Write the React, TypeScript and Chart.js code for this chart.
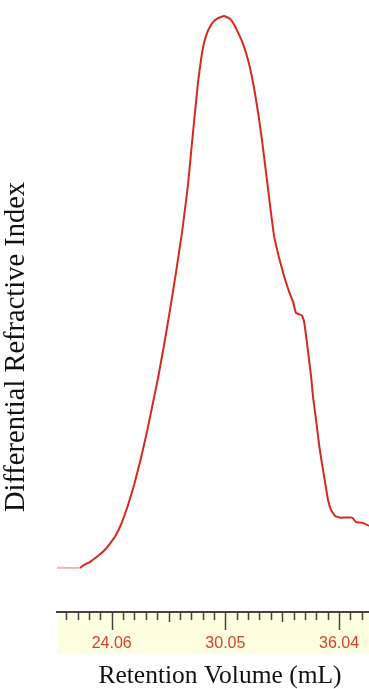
import { useEffect, useRef } from "react";
import { Chart, registerables } from "chart.js";

Chart.register(...registerables);

// Retention volume (mL) and differential RI signal (relative units, peak ≈ 100)
const RETENTION_VOLUME = [
  21.18, 22.39, 22.55, 22.92, 23.28, 23.65, 23.97, 24.29, 24.6, 24.92, 25.24,
  25.55, 25.87, 26.18, 26.5, 26.82, 27.13, 27.45, 27.77, 28.08, 28.29, 28.45,
  28.61, 28.77, 28.93, 29.14, 29.4, 29.66, 29.98, 30.29, 30.5, 30.72, 30.93,
  31.14, 31.35, 31.56, 31.77, 31.98, 32.19, 32.4, 32.61, 32.88, 33.14, 33.41,
  33.62, 33.77, 34.09, 34.2, 34.35, 34.46, 34.57, 34.67, 34.83, 34.99, 35.15,
  35.3, 35.46, 35.62, 35.83, 36.1, 36.73, 36.94, 37.26, 37.62,
];
const RI_SIGNAL = [
  0, 0, 0.4, 1.1, 2.0, 3.1, 4.4, 6.0, 8.3, 11.4, 15.0, 19.2, 23.9, 29.0, 34.4,
  40.4, 46.7, 53.6, 60.9, 69.4, 77.0, 82.6, 88.0, 92.2, 95.2, 97.4, 98.9, 99.6,
  100, 99.5, 98.5, 97.0, 95.4, 93.3, 90.6, 87.0, 82.6, 77.5, 71.7, 65.8, 60.3,
  56.2, 52.9, 50.0, 48.2, 46.2, 45.7, 44.6, 40.8, 37.7, 34.6, 31.0, 26.8, 22.3,
  18.7, 15.6, 12.3, 10.5, 9.4, 9.1, 9.1, 8.3, 8.2, 7.6,
];

const MAJOR_TICK_LABELS = ["24.06", "30.05", "36.04"];
const MINOR_PER_MAJOR = 10;
const X_TITLE = "Retention Volume (mL)";
const Y_TITLE = "Differential Refractive Index";

const X_MIN = 21.176;
const X_MAX = 37.62;
const Y_MIN = -8;
const Y_MAX = 102.9;

const LINE_COLOR = "#d8281e";
const FAINT_COLOR = "rgba(236,150,150,0.7)";
const LABEL_COLOR = "#d9402f";
const AXIS_COLOR = "#444444";
const BAND_COLOR = "#fefee0";

type TickInfo = { value: number; kind: "major" | "medium" | "minor"; label: string };

const majorVals = MAJOR_TICK_LABELS.map(Number);
const minorStep = (majorVals[1] - majorVals[0]) / MINOR_PER_MAJOR;
const TICKS: TickInfo[] = [];
for (let k = -MINOR_PER_MAJOR; k <= MINOR_PER_MAJOR * 4; k++) {
  const v = majorVals[0] + k * minorStep;
  if (v < X_MIN || v > X_MAX) continue;
  const isMajor = k % MINOR_PER_MAJOR === 0;
  const mi = k / MINOR_PER_MAJOR;
  TICKS.push({
    value: v,
    kind: isMajor ? "major" : k % (MINOR_PER_MAJOR / 2) === 0 ? "medium" : "minor",
    label: isMajor && mi >= 0 && mi < MAJOR_TICK_LABELS.length ? MAJOR_TICK_LABELS[mi] : "",
  });
}

const decorPlugin = {
  id: "decor",
  beforeDraw(chart: any) {
    const { ctx } = chart;
    const x = chart.scales.x;
    ctx.save();
    ctx.fillStyle = BAND_COLOR;
    ctx.fillRect(x.left, x.top, x.right - x.left, 42);
    ctx.restore();
  },
  afterDraw(chart: any) {
    const { ctx } = chart;
    const x = chart.scales.x;
    ctx.save();
    ctx.strokeStyle = AXIS_COLOR;
    ctx.lineWidth = 1.5;
    TICKS.forEach((t) => {
      const px = Math.round(x.getPixelForValue(t.value)) + 0.5;
      const len = t.kind === "major" ? 18 : t.kind === "medium" ? 10 : 8;
      ctx.beginPath();
      ctx.moveTo(px, x.top);
      ctx.lineTo(px, x.top + len);
      ctx.stroke();
    });
    // axis titles
    ctx.fillStyle = "#111111";
    ctx.textBaseline = "alphabetic";
    ctx.textAlign = "center";
    ctx.font = "25.5px 'Liberation Serif', 'Times New Roman', serif";
    ctx.fillText(X_TITLE, 220, 683);
    ctx.translate(24, 347);
    ctx.rotate(-Math.PI / 2);
    ctx.font = "28.5px 'Liberation Serif', 'Times New Roman', serif";
    ctx.fillText(Y_TITLE, 0, 0);
    ctx.restore();
  },
};

export default function App() {
  const ref = useRef<HTMLCanvasElement | null>(null);
  useEffect(() => {
    document.body.style.margin = "0";
    if (!ref.current) return;
    const chart = new Chart(ref.current, {
      type: "line",
      data: {
        datasets: [
          {
            data: RETENTION_VOLUME.map((v, i) => ({ x: v, y: RI_SIGNAL[i] })),
            borderColor: LINE_COLOR,
            borderWidth: 2,
            pointRadius: 0,
            tension: 0.1,
            fill: false,
            segment: {
              borderColor: (c: any) => (c.p0DataIndex === 0 ? FAINT_COLOR : LINE_COLOR),
            },
          },
        ],
      },
      options: {
        responsive: false,
        animation: false,
        layout: { padding: { left: 57, right: 0, top: 0, bottom: 0 } },
        plugins: { legend: { display: false }, tooltip: { enabled: false } },
        scales: {
          x: {
            type: "linear",
            min: X_MIN,
            max: X_MAX,
            afterFit: (s: any) => {
              s.height = 77;
            },
            afterBuildTicks: (s: any) => {
              s.ticks = TICKS.map((t) => ({ value: t.value }));
            },
            grid: {
              display: true,
              drawOnChartArea: false,
              drawTicks: true,
              tickLength: 22,
              tickColor: "rgba(0,0,0,0)",
            },
            border: { display: true, color: AXIS_COLOR, width: 2 },
            ticks: {
              autoSkip: false,
              maxRotation: 0,
              padding: 0,
              color: LABEL_COLOR,
              font: { family: "'Liberation Sans', Arial, sans-serif", size: 16 },
              callback: (_v: any, i: number) => TICKS[i]?.label ?? "",
            },
          },
          y: {
            display: false,
            min: Y_MIN,
            max: Y_MAX,
          },
        },
      },
      plugins: [decorPlugin],
    });
    return () => chart.destroy();
  }, []);
  return <canvas ref={ref} width={369} height={689} />;
}
